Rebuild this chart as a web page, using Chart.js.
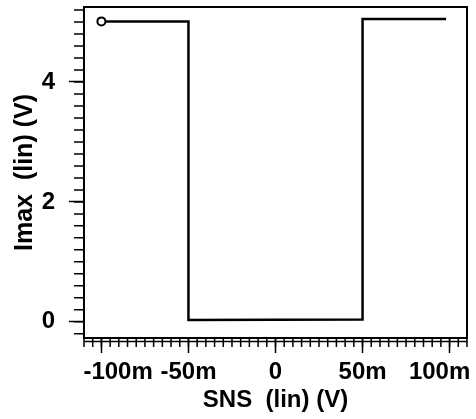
<!DOCTYPE html>
<html>
<head>
<meta charset="utf-8">
<script src="https://cdn.jsdelivr.net/npm/chart.js@4/dist/chart.umd.min.js"></script>
<style>
  html, body { margin: 0; padding: 0; background: #fff; }
  canvas { display: block; }
</style>
</head>
<body>
<canvas id="grafico" width="476" height="419"></canvas>
<script>
// valores (SNS em V, Imax em V)
const snsValores = [-0.1, -0.05, -0.05, 0.05, 0.05, 0.098];
const imaxValores = [5.01, 5.01, 0.03, 0.04, 5.05, 5.05];

const xTickValores = [-0.1, -0.05, 0, 0.05, 0.1];
// espaços deslocam os rótulos das pontas para dentro, como no original
const xTickLabels = ["     -100m", "-50m", "0", "50m", "100m   "];
const yTickValores = [0, 2, 4];
const yTickLabels = ["0", "2", "4"];

const fonte = "'Liberation Sans', Arial, sans-serif";

// sem margem automática nos eixos
function semMargem(s) {
  s.paddingTop = 0;
  s.paddingBottom = 0;
  s.paddingLeft = 0;
  s.paddingRight = 0;
}

// moldura e marcas menores dos eixos
const moldura = {
  id: "moldura",
  afterDraw(chart) {
    const { ctx, chartArea: a, scales } = chart;
    ctx.save();
    ctx.strokeStyle = "#000";
    ctx.lineWidth = 2;
    ctx.strokeRect(a.left, a.top, a.right - a.left, a.bottom - a.top);

    ctx.lineWidth = 1.5;
    ctx.beginPath();
    for (let i = -1; i <= 26; i++) {
      const y = scales.y.getPixelForValue(i * 0.2);
      if (y < a.top || y > a.bottom) continue;
      ctx.moveTo(a.left - 10, y);
      ctx.lineTo(a.left, y);
    }
    for (let i = -22; i <= 22; i++) {
      const x = scales.x.getPixelForValue(i * 0.005);
      if (x < a.left - 1 || x > a.right + 1) continue;
      ctx.moveTo(x, a.bottom);
      ctx.lineTo(x, a.bottom + 9);
    }
    ctx.stroke();
    // linha dupla do eixo x
    ctx.beginPath();
    ctx.moveTo(a.left, a.bottom + 3.5);
    ctx.lineTo(a.right, a.bottom + 3.5);
    ctx.stroke();
    ctx.restore();
  }
};

const ctx = document.getElementById("grafico").getContext("2d");

new Chart(ctx, {
  type: "line",
  data: {
    datasets: [{
      data: snsValores.map((x, i) => ({ x: x, y: imaxValores[i] })),
      borderColor: "#000",
      borderWidth: 2.5,
      tension: 0,
      pointRadius: c => c.dataIndex === 0 ? 4 : 0,
      pointBackgroundColor: "#fff",
      pointBorderColor: "#000",
      pointBorderWidth: 2
    }]
  },
  options: {
    responsive: false,
    animation: false,
    devicePixelRatio: 1,
    layout: { padding: { left: 0, top: 7, right: 9, bottom: 0 } },
    plugins: { legend: { display: false }, tooltip: { enabled: false } },
    scales: {
      x: {
        type: "linear",
        min: -0.11,
        max: 0.11,
        afterFit: s => { s.height = 81; semMargem(s); },
        afterBuildTicks: s => { s.ticks = xTickValores.map(v => ({ value: v })); },
        border: { display: false },
        grid: { drawOnChartArea: false, tickLength: 15, tickColor: "#000", tickWidth: 1.5 },
        ticks: {
          autoSkip: false,
          maxRotation: 0,
          padding: 5,
          color: "#000",
          font: { family: fonte, size: 24, weight: "bold" },
          callback: (v, i) => xTickLabels[i]
        },
        title: {
          display: true,
          text: "SNS  (lin) (V)",
          color: "#000",
          padding: { top: 0, bottom: 4 },
          font: { family: fonte, size: 24, weight: "bold" }
        }
      },
      y: {
        min: -0.27,
        max: 5.25,
        afterFit: s => { s.width = 84; semMargem(s); },
        afterBuildTicks: s => { s.ticks = yTickValores.map(v => ({ value: v })); },
        border: { display: false },
        grid: { drawOnChartArea: false, tickLength: 15, tickColor: "#000", tickWidth: 1.5 },
        ticks: {
          padding: 14,
          color: "#000",
          font: { family: fonte, size: 24, weight: "bold" },
          callback: (v, i) => yTickLabels[i]
        },
        title: {
          display: true,
          text: "Imax  (lin) (V)",
          color: "#000",
          padding: { top: 10, bottom: 0 },
          font: { family: fonte, size: 25, weight: "bold" }
        }
      }
    }
  },
  plugins: [moldura]
});
</script>
</body>
</html>
